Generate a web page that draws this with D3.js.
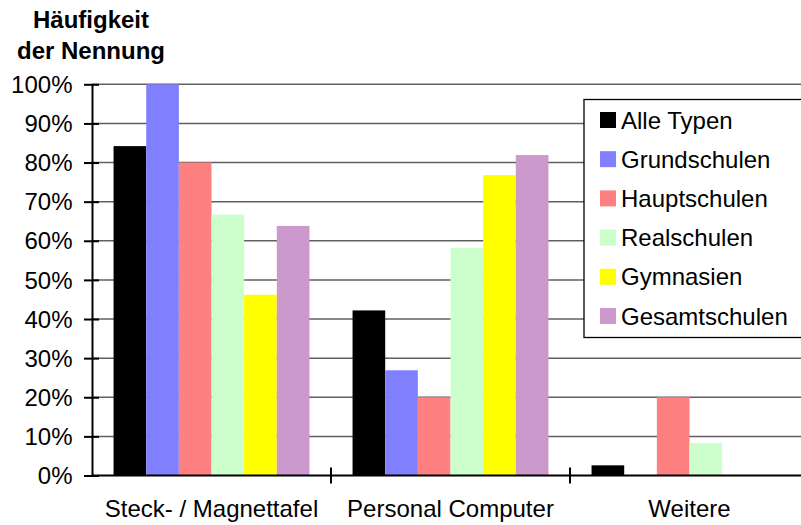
<!DOCTYPE html>
<html>
<head>
<meta charset="utf-8">
<script src="https://cdn.jsdelivr.net/npm/d3@7"></script>
<style>
  html, body { margin: 0; padding: 0; background: #fff; }
  svg { display: block; font-family: "Liberation Sans", Arial, sans-serif; }
</style>
</head>
<body>
<svg id="chart" width="801" height="525"></svg>
<script>
// Kategorien (x-Achse)
const categories = ["Steck- / Magnettafel", "Personal Computer", "Weitere"];
// Schultypen (Datenreihen)
const seriesNames = ["Alle Typen", "Grundschulen", "Hauptschulen", "Realschulen", "Gymnasien", "Gesamtschulen"];
const seriesColors = ["#000000", "#8080ff", "#ff8080", "#ccffcc", "#ffff00", "#cc99cc"];
// Anteile in Prozent je Schultyp, in Reihenfolge der Kategorien
const alleTypen     = [84.2, 42.2, 2.6];
const grundschulen  = [100, 26.9, 0];
const hauptschulen  = [80, 20, 20];
const realschulen   = [66.7, 58.2, 8.3];
const gymnasien     = [46.2, 76.8, 0];
const gesamtschulen = [63.8, 81.9, 0];
const seriesValues = [alleTypen, grundschulen, hauptschulen, realschulen, gymnasien, gesamtschulen];
const yTicks = [0, 10, 20, 30, 40, 50, 60, 70, 80, 90, 100];

const FONT = 24;
const svg = d3.select("#chart");
const plotLeft = 92, plotTop = 84.3, plotBottom = 475.5, plotRight = 809;

const x0 = d3.scaleBand().domain(categories).range([plotLeft, plotRight]).paddingInner(0).paddingOuter(0);
const x1 = d3.scaleBand().domain(seriesNames).range([0, x0.bandwidth()]).paddingOuter(0.66);
const y = d3.scaleLinear().domain([0, 100]).range([plotBottom, plotTop]);

// Gitterlinien
svg.append("g").selectAll("line").data(yTicks.filter(t => t > 0)).join("line")
  .attr("x1", plotLeft).attr("x2", plotRight)
  .attr("y1", d => y(d)).attr("y2", d => y(d))
  .attr("stroke", "#606060").attr("stroke-width", 1.5);

// Balken
const groups = svg.append("g").selectAll("g").data(categories).join("g")
  .attr("transform", d => `translate(${x0(d)},0)`);
groups.selectAll("rect")
  .data((c, ci) => seriesNames.map((s, si) => ({ s, si, v: seriesValues[si][ci] })))
  .join("rect")
  .attr("x", d => x1(d.s))
  .attr("width", x1.bandwidth())
  .attr("y", d => y(d.v))
  .attr("height", d => plotBottom - y(d.v))
  .attr("fill", d => seriesColors[d.si]);

// y-Achse
const yAxis = svg.append("g").attr("transform", `translate(${plotLeft},0)`)
  .call(d3.axisLeft(y).tickValues(yTicks).tickFormat(d => d + "%").tickSizeInner(8).tickSizeOuter(0).tickPadding(12));
yAxis.select(".domain").attr("stroke", "#000").attr("stroke-width", 2);
yAxis.selectAll(".tick line").attr("x1", -8).attr("x2", 7).attr("stroke", "#000").attr("stroke-width", 2);
yAxis.selectAll(".tick text").attr("font-size", FONT).attr("fill", "#000")
  .attr("font-family", "Liberation Sans, Arial, sans-serif").attr("dx", "0.5").attr("dy", "0.34em");

// x-Achse
svg.append("line").attr("x1", plotLeft).attr("x2", plotRight).attr("y1", plotBottom).attr("y2", plotBottom)
  .attr("stroke", "#000").attr("stroke-width", 2);
svg.append("g").selectAll("line").data(categories.slice(1)).join("line")
  .attr("x1", d => x0(d)).attr("x2", d => x0(d))
  .attr("y1", plotBottom - 8).attr("y2", plotBottom + 8)
  .attr("stroke", "#000").attr("stroke-width", 2);
svg.append("g").selectAll("text").data(categories).join("text")
  .attr("x", d => x0(d) + x0.bandwidth() / 2)
  .attr("y", 516.5)
  .attr("text-anchor", "middle")
  .attr("font-size", FONT)
  .text(d => d);

// Achsentitel
svg.append("text").attr("x", 91).attr("y", 28).attr("text-anchor", "middle")
  .attr("font-size", FONT).attr("font-weight", "bold").text("Häufigkeit");
svg.append("text").attr("x", 91).attr("y", 59).attr("text-anchor", "middle")
  .attr("font-size", FONT).attr("font-weight", "bold").text("der Nennung");

// Legende
const legend = svg.append("g").attr("transform", "translate(584,99.5)");
legend.append("rect").attr("x", 0).attr("y", 0).attr("width", 240).attr("height", 238)
  .attr("fill", "#fff").attr("stroke", "#000").attr("stroke-width", 1.3);
const items = legend.selectAll("g").data(seriesNames).join("g")
  .attr("transform", (d, i) => `translate(0,${20.5 + i * 39.2})`);
items.append("rect").attr("x", 16).attr("y", -8).attr("width", 16).attr("height", 16)
  .attr("fill", (d, i) => seriesColors[i]);
items.append("text").attr("x", 37).attr("y", 8.6).attr("font-size", FONT).text(d => d);
</script>
</body>
</html>
